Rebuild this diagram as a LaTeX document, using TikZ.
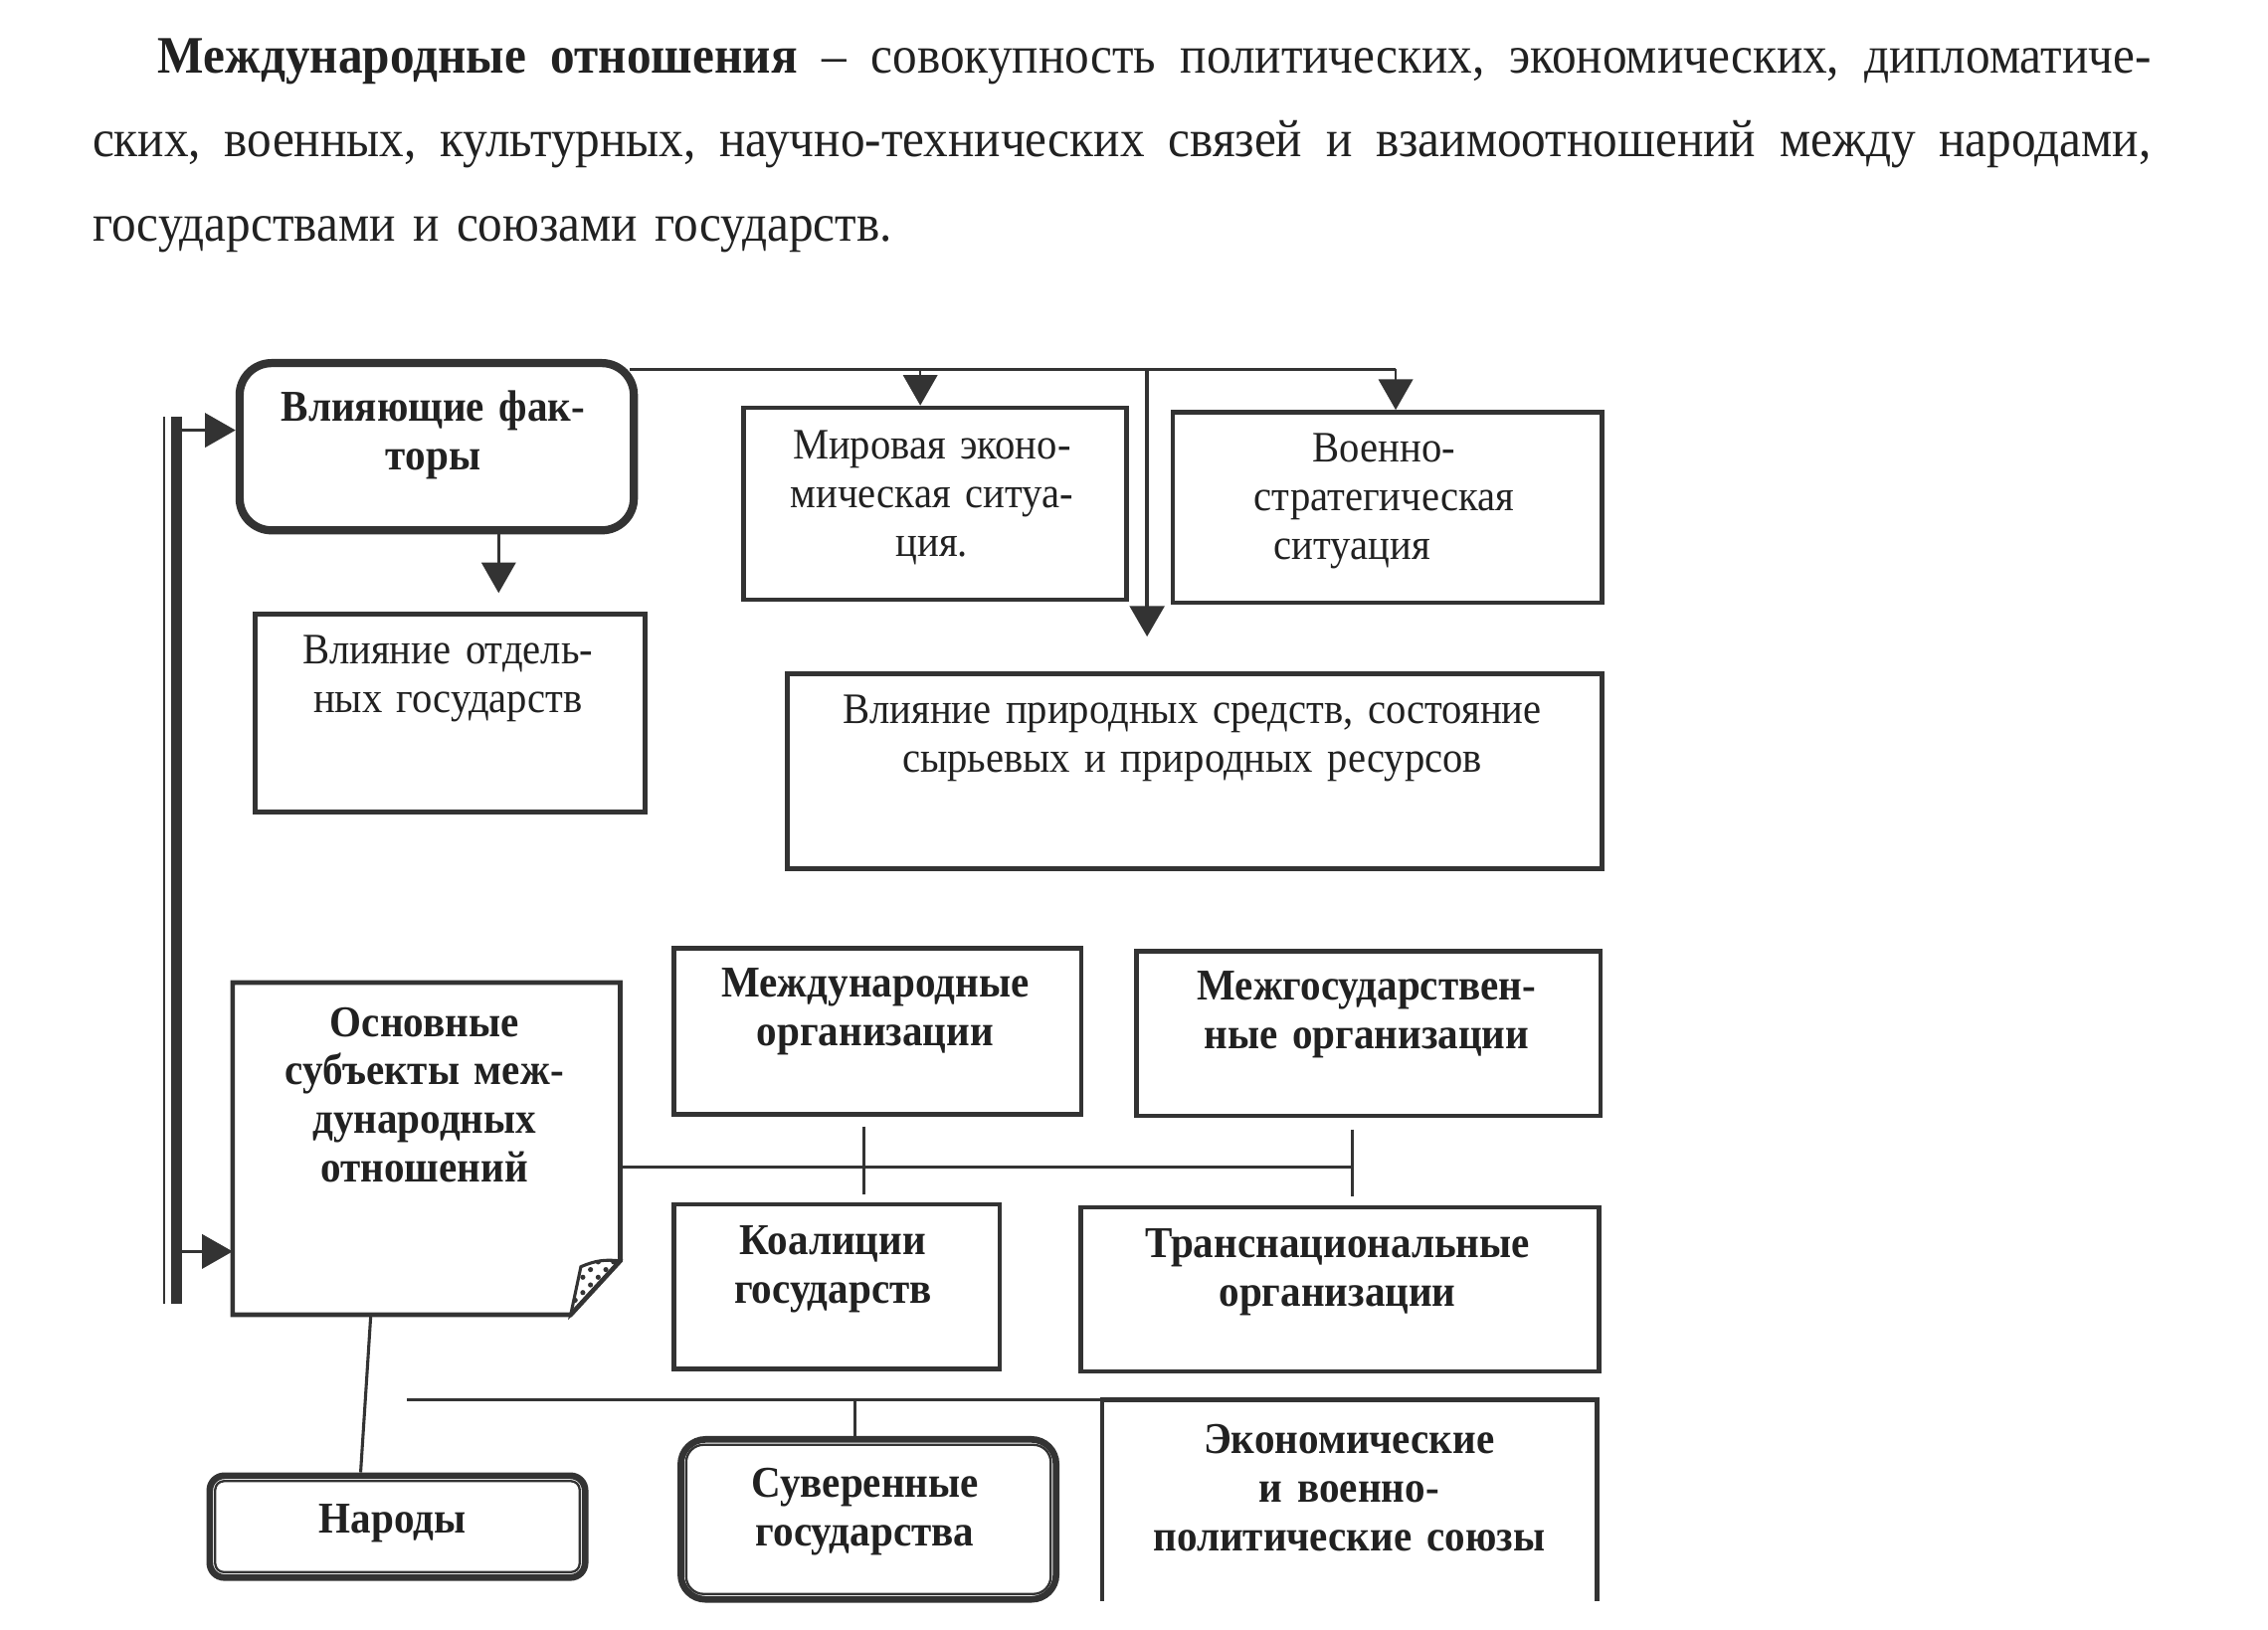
\documentclass[tikz,border=0pt]{standalone}
\usepackage{fontspec}
\setmainfont{Liberation Serif}[FakeStretch=0.93]
\usetikzlibrary{arrows.meta,patterns}

\tikzset{
  plainbox/.style={draw=cline, line width=0.9pt, inner sep=0pt, anchor=north west},
  roundbox/.style={plainbox, line width=1.6pt, rounded corners=0.22cm},
  dblbox/.style={plainbox, line width=1.3pt, rounded corners=0.1cm},
  ghost/.style={inner sep=0pt, anchor=north west},
  txt/.style={align=center, text width=3.6cm, inner sep=0pt, anchor=base, text=ctext, font=\fontsize{8.5}{9.5}\selectfont},
  btxt/.style={txt, font=\fontsize{8.6}{9.5}\selectfont\bfseries},
  flow/.style={draw=cline, line width=0.5pt, -{Triangle[length=2.1mm,width=2.35mm]}},
  link/.style={draw=cline, line width=0.6pt},
}

\begin{document}
\begin{tikzpicture}[x=0.01cm, y=-0.01cm]
%
\useasboundingbox[fill=white] (0,0) rectangle (1560,1121.4);
%
\definecolor{cline}{rgb}{0.2,0.2,0.2}
\definecolor{ctext}{rgb}{0.13,0.13,0.13}
%
\node[anchor=base west, inner sep=0pt, text width=14.15cm, text=ctext, font=\fontsize{10.3}{16.5}\selectfont] (defn) at (63,50) {%
\frenchspacing
{\spaceskip=0.25em plus 1fil\relax
\makebox[14.15cm][s]{\hspace*{0.45cm}\textbf{Международные отношения} – совокупность политических, экономических, дипломатиче-}\par
\makebox[14.15cm][s]{ских, военных, культурных, научно-технических связей и взаимоотношений между народами,}\par}
государствами и союзами государств.};
%
\node[roundbox, minimum width=2.71cm, minimum height=1.15cm] (fakt) at (162,247) {};
\node[plainbox, minimum width=2.63cm, minimum height=1.32cm] (mir) at (510,279) {};
\node[plainbox, minimum width=2.95cm, minimum height=1.31cm] (voen) at (805,282) {};
\node[plainbox, minimum width=2.68cm, minimum height=1.36cm] (otd) at (174,421) {};
\node[plainbox, minimum width=5.60cm, minimum height=1.34cm] (prir) at (540,462) {};
\node[plainbox, minimum width=2.80cm, minimum height=1.14cm] (mezhd) at (462,651) {};
\node[plainbox, minimum width=3.19cm, minimum height=1.13cm] (mezhg) at (780,653) {};
\node[ghost, minimum width=2.65cm, minimum height=2.27cm] (osn) at (160,676) {};
\node[plainbox, minimum width=2.24cm, minimum height=1.13cm] (koal) at (462,827) {};
\node[plainbox, minimum width=3.56cm, minimum height=1.13cm] (trans) at (742,829) {};
\node[dblbox, minimum width=2.58cm, minimum height=0.70cm] (nar) at (142,1013) {};
\node[dblbox, rounded corners=0.17cm, minimum width=2.58cm, minimum height=1.10cm] (suv) at (466,988) {};
\node[ghost, minimum width=3.39cm, minimum height=1.37cm] (ekon) at (758,963) {};
%
\node[btxt] (fakttxt) at (298,290) {Влияющие фак-\\торы};
\node[txt] (mirtxt) at (641,316) {Мировая эконо-\\мическая ситуа-\\ция.};
\node[txt] (voentxt) at (952,318) {Военно-\\стратегическая\\ситуация\hspace*{0.44cm}};
\node[txt] (otdtxt) at (308,457) {Влияние отдель-\\ных государств};
\node[txt, text width=5.4cm] (prirtxt) at (820,498) {Влияние природных средств, состояние\\сырьевых и природных ресурсов};
\node[btxt] (mezhdtxt) at (602,686) {Международные\\организации};
\node[btxt] (mezhgtxt) at (940,688) {Межгосударствен-\\ные организации};
\node[btxt] (osntxt) at (292,713) {Основные\\субъекты меж-\\дународных\\отношений};
\node[btxt] (koaltxt) at (573,863) {Коалиции\\государств};
\node[btxt] (transtxt) at (920,865) {Транснациональные\\организации};
\node[btxt] (nartxt) at (270,1055) {Народы};
\node[btxt] (suvtxt) at (595,1030) {Суверенные\\государства};
\node[btxt] (ekontxt) at (928,1000) {Экономические\\и военно-\\политические союзы};
%
% note sheet with the folded corner
\draw[cline, line width=0.9pt] (osn.north west) -- (osn.north east) -- ([yshift=0.37cm]osn.south east) -- ([xshift=-0.34cm]osn.south east) -- (osn.south west) -- cycle;
\draw[cline, line width=0.6pt, pattern=crosshatch dots, pattern color=cline] ([yshift=0.37cm]osn.south east) to[bend right=15] ([xshift=-0.27cm,yshift=0.33cm]osn.south east) -- ([xshift=-0.34cm]osn.south east) -- cycle;
% open box at the foot of the page
\draw[cline, line width=0.9pt] (ekon.south west) -- (ekon.north west) -- (ekon.north east) -- (ekon.south east);
% inner rims of the double frames
\draw[cline, line width=0.45pt, rounded corners=0.06cm] ([shift={(6,-6)}]nar.south west) rectangle ([shift={(-6,6)}]nar.north east);
\draw[cline, line width=0.45pt, rounded corners=0.12cm] ([shift={(6,-6)}]suv.south west) rectangle ([shift={(-6,6)}]suv.north east);
%
% double bar on the left
\coordinate (barT) at (121.5,287);
\coordinate (barB) at (121.5,897);
\draw[cline, line width=2.1pt] (barT) -- (barB);
\draw[cline, line width=0.5pt] ([xshift=-0.085cm]barT) -- ([xshift=-0.085cm]barB);
\coordinate (b1) at (125,296);
\coordinate (b2) at (125,861);
\draw[flow] (b1) -- (fakt.west |- b1);
\draw[flow] (b2) -- (osn.west |- b2);
%
\coordinate (t0) at (433,254);
\coordinate (jm) at (633,254);
\coordinate (jp) at (789,254);
\coordinate (jv) at (960,254);
\coordinate (pt) at (789,438);
\draw[link] (t0) -- (jv);
\draw[flow] (jm) -- (jm |- mir.north);
\draw[flow] (jv) -- (jv |- voen.north);
\draw[flow, line width=0.8pt] (jp) -- (pt);
%
\coordinate (fo) at (343,408);
\draw[flow] (fo |- fakt.south) -- (fo);
%
\coordinate (h1) at (930,803);
\coordinate (k1a) at (594,775);
\coordinate (k1b) at (594,822);
\coordinate (k1c) at (930,777);
\coordinate (k1d) at (930,823);
\draw[link] (h1 -| osn.east) -- (h1);
\draw[link] (k1a) -- (k1b);
\draw[link] (k1c) -- (k1d);
%
\draw[link] ([xshift=0.95cm]osn.south west) -- ([xshift=1.06cm]nar.north west);
%
\coordinate (h2) at (280,963);
\coordinate (k2) at (588,963);
\draw[link] (h2) -- (ekon.north west);
\draw[link] (k2) -- (k2 |- suv.north);
%
\end{tikzpicture}
\end{document}
